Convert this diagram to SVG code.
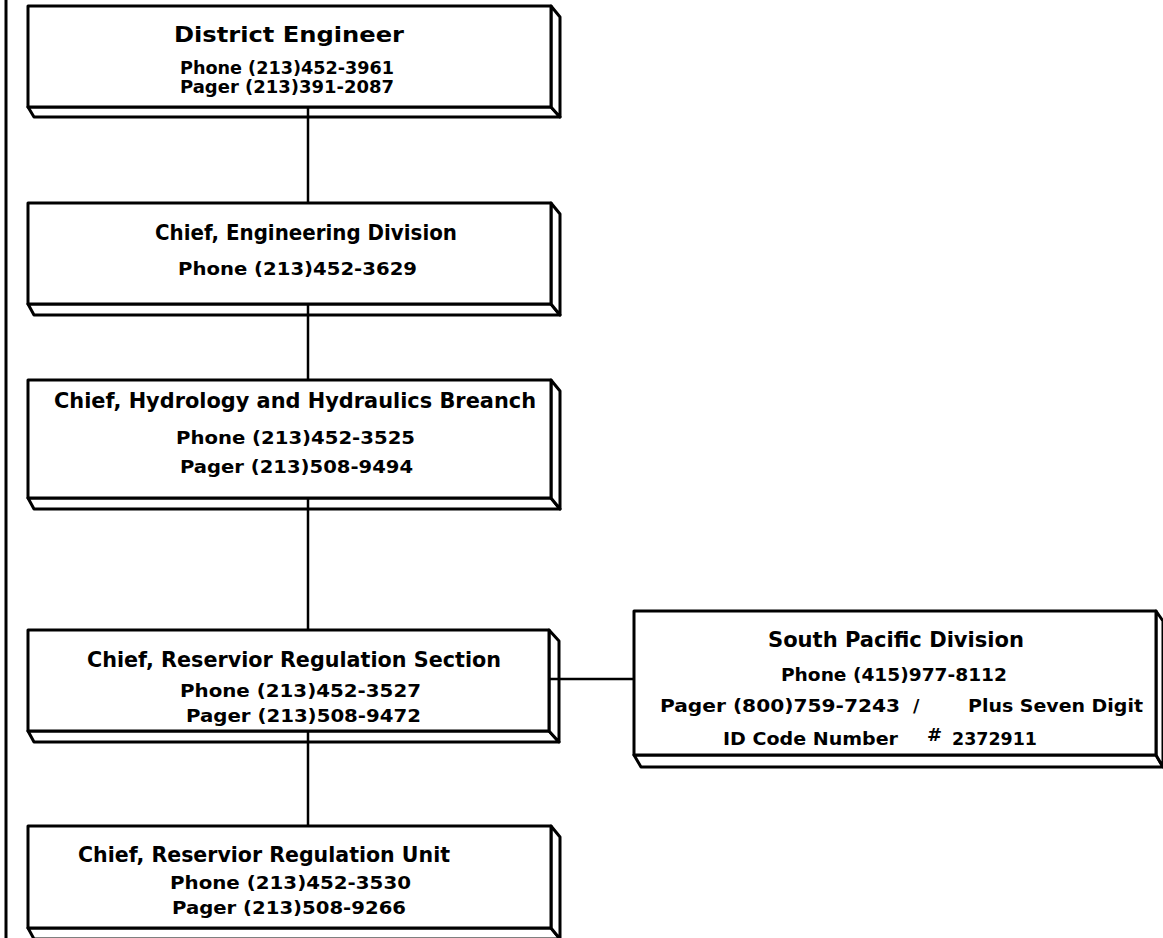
<svg xmlns="http://www.w3.org/2000/svg" width="1163" height="938" viewBox="0 0 1163 938">
<style>
  .bg { fill: #ffffff; }
  .face { fill: #ffffff; stroke: #000000; stroke-width: 3; stroke-linejoin: round; }
  .conn { stroke: #000000; stroke-width: 2.5; fill: none; }
  .frame { stroke: #000000; stroke-width: 3; fill: none; }
  text { font-family: "DejaVu Sans", "Liberation Sans", sans-serif; font-weight: bold; fill: #000000; }
  .t { font-size: 21px; }
  .s { font-size: 17.5px; }
</style>
<rect class="bg" x="0" y="0" width="1163" height="938"/>
<line class="frame" x1="6" y1="0" x2="6" y2="938"/>

<g id="district-engineer">
  <polygon class="face" points="28,107 551,107 560,117 34,117"/>
  <polygon class="face" points="551,6 560,17 560,117 551,107"/>
  <rect class="face" x="28" y="6" width="523" height="101"/>
  <text class="t" x="174" y="42" textLength="230" lengthAdjust="spacingAndGlyphs">District Engineer</text>
  <text class="s" x="180" y="74" textLength="214" lengthAdjust="spacingAndGlyphs">Phone (213)452-3961</text>
  <text class="s" x="180" y="93" textLength="214" lengthAdjust="spacingAndGlyphs">Pager (213)391-2087</text>
</g>

<g id="chief-engineering">
  <polygon class="face" points="28,304 551,304 560,315 34,315"/>
  <polygon class="face" points="551,203 560,214 560,315 551,304"/>
  <rect class="face" x="28" y="203" width="523" height="101"/>
  <text class="t" x="155" y="240" textLength="302" lengthAdjust="spacingAndGlyphs">Chief, Engineering Division</text>
  <text class="s" x="178" y="275" textLength="239" lengthAdjust="spacingAndGlyphs">Phone (213)452-3629</text>
</g>

<g id="chief-hydrology">
  <polygon class="face" points="28,498 551,498 560,509 34,509"/>
  <polygon class="face" points="551,380 560,391 560,509 551,498"/>
  <rect class="face" x="28" y="380" width="523" height="118"/>
  <text class="t" x="54" y="408" textLength="482" lengthAdjust="spacingAndGlyphs">Chief, Hydrology and Hydraulics Breanch</text>
  <text class="s" x="176" y="444" textLength="239" lengthAdjust="spacingAndGlyphs">Phone (213)452-3525</text>
  <text class="s" x="180" y="473" textLength="233" lengthAdjust="spacingAndGlyphs">Pager (213)508-9494</text>
</g>

<g id="chief-reservoir-section">
  <polygon class="face" points="28,731 549,731 559,742 34,742"/>
  <polygon class="face" points="549,630 559,641 559,742 549,731"/>
  <rect class="face" x="28" y="630" width="521" height="101"/>
  <text class="t" x="87" y="667" textLength="414" lengthAdjust="spacingAndGlyphs">Chief, Reservior Regulation Section</text>
  <text class="s" x="180" y="697" textLength="241" lengthAdjust="spacingAndGlyphs">Phone (213)452-3527</text>
  <text class="s" x="186" y="722" textLength="235" lengthAdjust="spacingAndGlyphs">Pager (213)508-9472</text>
</g>

<g id="chief-reservoir-unit">
  <polygon class="face" points="28,928 551,928 560,939 34,939"/>
  <polygon class="face" points="551,826 560,837 560,939 551,928"/>
  <rect class="face" x="28" y="826" width="523" height="102"/>
  <text class="t" x="78" y="862" textLength="372" lengthAdjust="spacingAndGlyphs">Chief, Reservior Regulation Unit</text>
  <text class="s" x="170" y="889" textLength="241" lengthAdjust="spacingAndGlyphs">Phone (213)452-3530</text>
  <text class="s" x="172" y="914" textLength="234" lengthAdjust="spacingAndGlyphs">Pager (213)508-9266</text>
</g>

<g id="south-pacific-division">
  <polygon class="face" points="634,755 1156,755 1163,767 641,767"/>
  <polygon class="face" points="1156,611 1163,621 1163,767 1156,755"/>
  <rect class="face" x="634" y="611" width="522" height="144"/>
  <text class="t" x="768" y="647" textLength="256" lengthAdjust="spacingAndGlyphs">South Pacific Division</text>
  <text class="s" x="781" y="681" textLength="226" lengthAdjust="spacingAndGlyphs">Phone (415)977-8112</text>
  <text class="s"><tspan x="660" y="712" textLength="240" lengthAdjust="spacingAndGlyphs">Pager (800)759-7243</tspan><tspan x="913" y="712">/</tspan><tspan x="968" y="712" textLength="175" lengthAdjust="spacingAndGlyphs">Plus Seven Digit</tspan></text>
  <text class="s"><tspan x="723" y="745" textLength="175" lengthAdjust="spacingAndGlyphs">ID Code Number</tspan><tspan x="927" y="741" font-size="18">#</tspan><tspan x="952" y="745" textLength="85" lengthAdjust="spacingAndGlyphs">2372911</tspan></text>
</g>

<g id="connectors">
  <line class="conn" x1="308" y1="107" x2="308" y2="203"/>
  <line class="conn" x1="308" y1="304" x2="308" y2="380"/>
  <line class="conn" x1="308" y1="498" x2="308" y2="630"/>
  <line class="conn" x1="308" y1="731" x2="308" y2="826"/>
  <line class="conn" x1="549" y1="679" x2="634" y2="679"/>
</g>
</svg>
